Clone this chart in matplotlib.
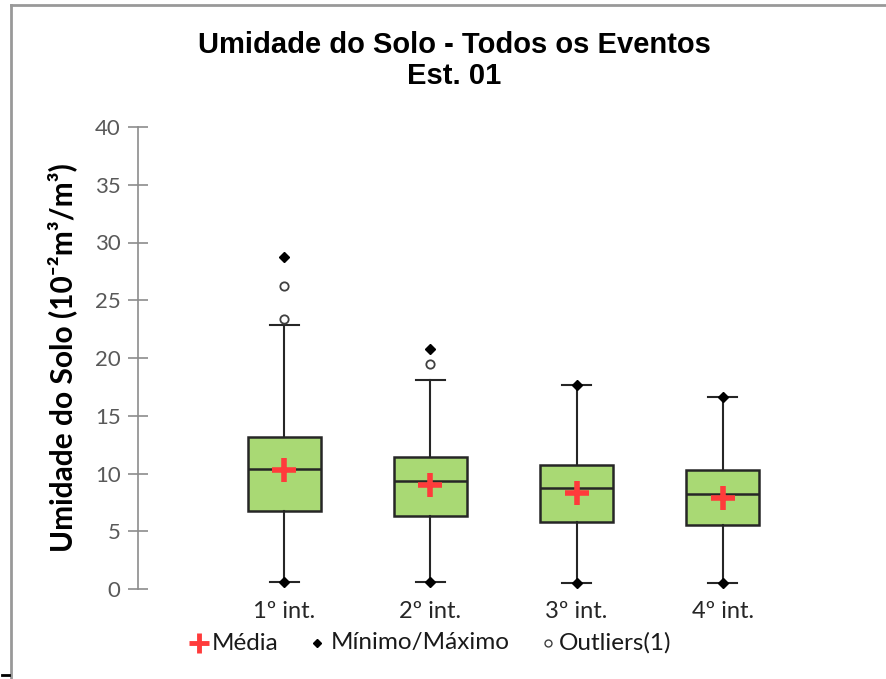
import matplotlib
matplotlib.use("Agg")
import matplotlib.pyplot as plt
from matplotlib.lines import Line2D

# dados
categorias = ["1º int.", "2º int.", "3º int.", "4º int."]
q1 = [6.75, 6.32, 5.83, 5.51]
mediana = [10.42, 9.38, 8.77, 8.2]
q3 = [13.16, 11.4, 10.74, 10.3]
whisker_sup = [22.86, 18.07, 17.66, 16.65]
whisker_inf = [0.63, 0.63, 0.49, 0.49]
media = [10.3, 9.0, 8.28, 7.85]
maximo = [28.77, 20.78, 17.66, 16.65]
minimo = [0.63, 0.63, 0.49, 0.49]
outliers = [[26.23, 23.35], [19.48], [], []]
legenda = ["Média", "Mínimo/Máximo", "Outliers(1)"]

VERDE = "#A9D974"
VERMELHO = "#FF3B3B"
CINZA = "#8C8C8C"
FONTE = ["Lato", "DejaVu Sans"]

W, H = 886, 679
fig = plt.figure(figsize=(W / 100, H / 100), dpi=100)
ax = fig.add_axes([138 / W, 90 / H, 731 / W, 462 / H])

pos = list(range(1, len(categorias) + 1))
stats = []
for i in range(len(categorias)):
    stats.append(dict(med=mediana[i], q1=q1[i], q3=q3[i],
                      whislo=whisker_inf[i], whishi=whisker_sup[i],
                      fliers=[], label=categorias[i]))

ax.bxp(stats, positions=pos, widths=0.5, patch_artist=True, showfliers=False,
       boxprops=dict(facecolor=VERDE, edgecolor="#262626", linewidth=1.8),
       medianprops=dict(color="#262626", linewidth=1.8),
       whiskerprops=dict(color="#262626", linewidth=1.5),
       capprops=dict(color="#262626", linewidth=1.5),
       capwidths=0.2)

ax.plot(pos, media, linestyle="none", marker="+", color=VERMELHO,
        markersize=17, mew=4, zorder=5)
ax.plot(pos, maximo, linestyle="none", marker="D", color="black",
        markersize=5, zorder=5)
ax.plot(pos, minimo, linestyle="none", marker="D", color="black",
        markersize=5, zorder=5)
for p, vals in zip(pos, outliers):
    ax.plot([p] * len(vals), vals, linestyle="none", marker="o",
            markerfacecolor="white", markeredgecolor="#404040",
            markersize=6, mew=1.3, zorder=5)

ax.set_xlim(0, 5)
ax.set_ylim(0, 40)
ax.set_yticks(range(0, 41, 5))
ax.set_xticks(pos)
ax.set_xticklabels(categorias, fontsize=17, fontfamily=FONTE, color="#262626")
for lbl in ax.get_yticklabels():
    lbl.set_fontfamily(FONTE)
ax.tick_params(axis="y", direction="inout", length=15, width=1.2, color=CINZA,
               labelsize=16, labelcolor="#595959", pad=5)
ax.tick_params(axis="x", length=0, pad=9)
for s in ["top", "right", "bottom"]:
    ax.spines[s].set_visible(False)
ax.spines["left"].set_color(CINZA)
ax.spines["left"].set_linewidth(1.2)

ax.set_ylabel("Umidade do Solo (10⁻²m³/m³)", fontsize=21.5,
              fontweight="bold", fontfamily=FONTE, labelpad=13)

fig.text(0.513, 1 - 45 / H, "Umidade do Solo - Todos os Eventos", ha="center",
         va="center", fontsize=21, fontweight="bold",
         fontfamily="Liberation Sans")
fig.text(0.513, 1 - 76 / H, "Est. 01", ha="center", va="center", fontsize=21,
         fontweight="bold", fontfamily="Liberation Sans")

# legenda montada à mão (posições como no original)
ly = 1 - 643 / H
marcadores = [
    dict(marker="+", color=VERMELHO, markersize=15, mew=3.5),
    dict(marker="D", color="black", markersize=4),
    dict(marker="o", markerfacecolor="white", markeredgecolor="#404040",
         markersize=5, mew=1),
]
xs_marc = [199, 317, 548]
xs_txt = [212, 331, 559]
for mk, xm, xt, txt in zip(marcadores, xs_marc, xs_txt, legenda):
    fig.add_artist(Line2D([xm / W], [ly], linestyle="none", **mk))
    fig.text(xt / W, ly, txt, ha="left", va="center", fontsize=17.5,
             fontfamily=FONTE, color="#1a1a1a")

# moldura
fig.add_artist(Line2D([11 / W, 1], [1 - 5 / H, 1 - 5 / H], color="#999999", lw=2))
fig.add_artist(Line2D([11 / W, 11 / W], [0, 1 - 5 / H], color="#999999", lw=2))
fig.add_artist(Line2D([2 / W, 9 / W], [4 / H, 4 / H], color="black", lw=2))

fig.savefig("out.png", dpi=100, facecolor="white")
